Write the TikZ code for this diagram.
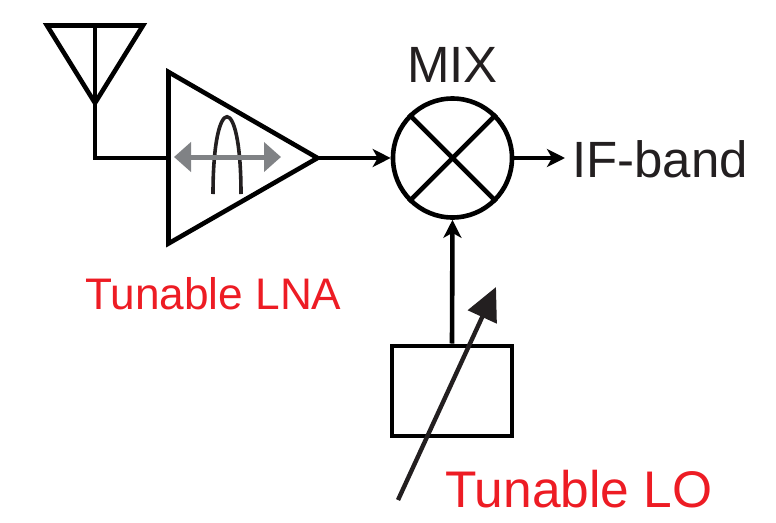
\documentclass[tikz,border=0pt]{standalone}
\usepackage{fontspec}
\setmainfont{Liberation Sans}
\usetikzlibrary{arrows.meta}
\definecolor{inkk}{HTML}{231F20}
\definecolor{redd}{HTML}{ED1C24}
\definecolor{grayy}{HTML}{808285}
\tikzset{
 wire/.style={draw=black,line width=4.6pt,line join=miter},
 flow/.style={wire,-{Stealth[length=18pt,width=18pt,inset=5pt]}},
 big/.style={font=\fontsize{51pt}{55pt}\selectfont,inner sep=0pt,text=inkk},
 redbig/.style={font=\fontsize{51.5pt}{55pt}\selectfont,inner sep=0pt,text=redd},
 redmid/.style={font=\fontsize{44.2pt}{50pt}\selectfont,inner sep=0pt,text=redd},
}
\begin{document}
\begin{tikzpicture}[x=1pt,y=-1pt]
\useasboundingbox (0,0) rectangle (776,522);
\coordinate (antL) at (47,25.5);
\coordinate (antR) at (143,25.5);
\coordinate (antT) at (95,25.5);
\coordinate (antA) at (95,103);
\coordinate (bend) at (95,158);
\coordinate (lnaT) at (168.5,72);
\coordinate (lnaB) at (168.5,243.5);
\coordinate (lnaI) at (168.5,158);
\coordinate (lnaO) at (317.5,158);
\draw[wire] (antL) -- (antA) -- (antR) -- cycle;
\draw[wire] (antT) -- (antA) -- (bend) -- (lnaI);
\draw[wire] (lnaT) -- (lnaO) -- (lnaB) -- cycle;
% tunable band inside LNA
\coordinate (bandL) at (213,194);
\coordinate (bandR) at (241,194);
\draw[inkk,line width=3.6pt] (bandL) .. controls (213,91) and (241,91) .. (bandR);
\coordinate (tuneL) at (174,157);
\coordinate (tuneR) at (281,157);
\draw[draw=grayy,line width=5pt,{Triangle[length=17pt,width=29pt]}-{Triangle[length=17pt,width=29pt]},color=grayy] (tuneL) -- (tuneR);
% mixer
\node[circle,draw=black,line width=4.6pt,minimum size=119pt,inner sep=0pt] (mix) at (452.5,158) {};
\draw[wire] (mix.45) -- (mix.225);
\draw[wire] (mix.135) -- (mix.315);
\draw[flow] (lnaO) -- (mix.west);
\coordinate (ifEnd) at (565,158);
\draw[flow] (mix.east) -- (ifEnd);
% LO
\node[rectangle,draw=black,line width=4pt,minimum width=120pt,minimum height=90pt,inner sep=0pt] (lo) at (452,390.5) {};
\draw[flow] (lo.north) -- (mix.south);
\coordinate (loS) at (398,500);
\coordinate (loE) at (496,287);
\draw[inkk,line width=4.4pt,-{Triangle[length=33pt,width=31pt]}] (loS) -- (loE);
% labels
\node[big,anchor=base] (mixl) at (452.5,82) {MIX};
\node[big,anchor=base west] (ifl) at (572,177) {IF-band};
\node[redmid,anchor=base west] (lnal) at (85,309) {Tunable LNA};
\node[redbig,anchor=base west] (lol) at (445,507) {Tunable LO};
\end{tikzpicture}
\end{document}
